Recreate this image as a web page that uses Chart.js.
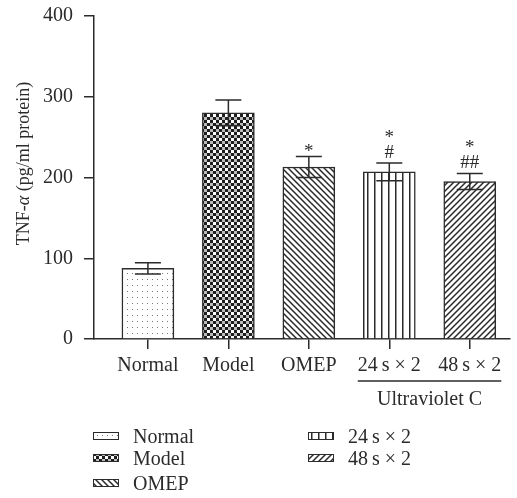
<!DOCTYPE html>
<html>
<head>
<meta charset="utf-8">
<script src="https://cdn.jsdelivr.net/npm/chart.js@4.4.1/dist/chart.umd.min.js"></script>
<style>
  html, body { margin: 0; padding: 0; background: #fff; }
  #wrap { width: 517px; height: 498px; }
</style>
</head>
<body>
<div id="wrap"><canvas id="tnfChart"></canvas></div>
<script>
// TNF-alpha by treatment group
const groups = ['Normal', 'Model', 'OMEP', '24\u2009s \u00d7 2', '48\u2009s \u00d7 2'];
const tnfMean = [87.5, 280, 213, 207, 195];
const tnfErr = [7, 16, 13, 11, 10];
const starMarks = ['', '', '*', '*', '*'];
const hashMarks = ['', '', '', '#', '##'];
const groupLabel = 'Ultraviolet C';
const groupedIdx = [3, 4];

const serif = "'Liberation Serif', 'Times New Roman', serif";
const ink = '#2b2b2b';

const ctx = document.getElementById('tnfChart').getContext('2d');

// small tiles for the hatch fills
function tile(w, h, paint) {
  const c = document.createElement('canvas');
  c.width = w; c.height = h;
  const g = c.getContext('2d');
  g.fillStyle = '#fff';
  g.fillRect(0, 0, w, h);
  g.fillStyle = ink;
  g.strokeStyle = ink;
  paint(g, w, h);
  return ctx.createPattern(c, 'repeat');
}

const dots = tile(5, 6, g => { g.fillStyle = '#777'; g.fillRect(2, 3, 1, 1); });
const checker = tile(6, 6, g => {
  g.fillStyle = '#1e1e1e';
  g.fillRect(0, 0, 3, 3);
  g.fillRect(3, 3, 3, 3);
  g.fillStyle = '#bbb';
  g.fillRect(0, 3, 3, 3);
});
const back = tile(6, 6, g => {
  g.lineWidth = 1.5;
  g.beginPath();
  g.moveTo(-1, -1); g.lineTo(7, 7);
  g.moveTo(-1, 5); g.lineTo(1, 7);
  g.moveTo(5, -1); g.lineTo(7, 1);
  g.stroke();
});
const vert = tile(7, 4, (g, w, h) => { g.fillRect(3, 0, 1.5, h); });
const fwd = tile(6, 6, g => {
  g.lineWidth = 1.5;
  g.beginPath();
  g.moveTo(-1, 7); g.lineTo(7, -1);
  g.moveTo(-1, 1); g.lineTo(1, -1);
  g.moveTo(5, 7); g.lineTo(7, 5);
  g.stroke();
});
const fills = [dots, checker, back, vert, fwd];

// error bars plus significance marks
const errorBars = {
  id: 'errorBars',
  afterDatasetsDraw(chart) {
    const { ctx: c, scales: { y } } = chart;
    const bars = chart.getDatasetMeta(0).data;
    c.save();
    c.strokeStyle = ink;
    c.lineWidth = 1.5;
    c.fillStyle = ink;
    c.font = '19px ' + serif;
    c.textAlign = 'center';
    c.textBaseline = 'alphabetic';
    bars.forEach((bar, i) => {
      const top = y.getPixelForValue(tnfMean[i] + tnfErr[i]);
      const bot = y.getPixelForValue(tnfMean[i] - tnfErr[i]);
      const x = bar.x, half = 13;
      c.beginPath();
      c.moveTo(x, top); c.lineTo(x, bot);
      c.moveTo(x - half, top); c.lineTo(x + half, top);
      c.moveTo(x - half, bot); c.lineTo(x + half, bot);
      c.stroke();
      if (hashMarks[i]) {
        c.fillText(hashMarks[i], x, top - 5);
        if (starMarks[i]) c.fillText(starMarks[i], x, top - 20);
      } else if (starMarks[i]) {
        c.fillText(starMarks[i], x, top);
      }
    });
    c.restore();
  }
};

// y title, group bracket under the x labels, and legend
const extras = {
  id: 'extras',
  afterDraw(chart) {
    const { ctx: c, scales: { x } } = chart;
    c.save();
    c.fillStyle = ink;
    c.strokeStyle = ink;

    // rotated y title with italic alpha
    const parts = [['TNF-', ''], ['\u03b1', 'italic '], [' (pg/ml protein)', '']];
    let total = 0;
    parts.forEach(p => { c.font = p[1] + '18px ' + serif; total += c.measureText(p[0]).width; });
    c.translate(28.5, 163.5);
    c.rotate(-Math.PI / 2);
    c.textBaseline = 'alphabetic';
    c.textAlign = 'left';
    let px = -total / 2;
    parts.forEach(p => {
      c.font = p[1] + '18px ' + serif;
      c.fillText(p[0], px, 0);
      px += c.measureText(p[0]).width;
    });
    c.setTransform(1, 0, 0, 1, 0, 0);

    // bracket under grouped labels
    c.font = '20px ' + serif;
    const a = groupedIdx[0], b = groupedIdx[groupedIdx.length - 1];
    const x0 = x.getPixelForValue(a) - c.measureText(groups[a]).width / 2;
    const x1 = x.getPixelForValue(b) + c.measureText(groups[b]).width / 2;
    c.lineWidth = 1.5;
    c.beginPath();
    c.moveTo(x0, 381); c.lineTo(x1, 381);
    c.stroke();
    c.textAlign = 'center';
    c.fillText(groupLabel, (x0 + x1) / 2, 405);

    // legend, column-major, three rows per column
    const rows = [436, 458, 483];
    const cols = [93, 308];
    c.textAlign = 'left';
    groups.forEach((name, i) => {
      const sx = cols[Math.floor(i / 3)];
      const cy = rows[i % 3];
      c.fillStyle = fills[i];
      c.fillRect(sx, cy - 3.5, 26, 7);
      c.lineWidth = 1;
      c.strokeRect(sx + 0.5, cy - 3.5, 25, 7);
      c.fillStyle = ink;
      c.fillText(name, sx + 40, cy + 7);
    });
    c.restore();
  }
};

new Chart(ctx, {
  type: 'bar',
  data: {
    datasets: [{
      data: tnfMean.map((v, i) => ({ x: i, y: v })),
      backgroundColor: fills,
      borderColor: ink,
      borderWidth: 1.5,
      barThickness: 52
    }]
  },
  options: {
    responsive: true,
    maintainAspectRatio: false,
    animation: false,
    layout: { padding: { top: 16, right: 7, left: 0, bottom: 0 } },
    plugins: { legend: { display: false }, tooltip: { enabled: false } },
    scales: {
      x: {
        type: 'linear',
        offset: false,
        min: -0.67,
        max: 4.5,
        afterBuildTicks: s => { s.ticks = groups.map((g, i) => ({ value: i })); },
        afterFit: s => { s.height = 159; },
        grid: { offset: false, drawOnChartArea: false, tickLength: 10, color: ink, lineWidth: 1.5 },
        border: { color: ink, width: 1.5 },
        ticks: {
          callback: v => groups[v] ?? '',
          font: { family: serif, size: 20 },
          color: ink,
          padding: 5,
          maxRotation: 0,
          autoSkip: false
        }
      },
      y: {
        min: 0,
        max: 400,
        afterFit: s => { s.width = 94; s.paddingTop = 0; },
        grid: { drawOnChartArea: false, tickLength: 10, color: ink, lineWidth: 1.5 },
        border: { color: ink, width: 1.5 },
        ticks: {
          stepSize: 100,
          font: { family: serif, size: 20 },
          color: ink,
          padding: 11
        }
      }
    }
  },
  plugins: [errorBars, extras]
});
</script>
</body>
</html>
